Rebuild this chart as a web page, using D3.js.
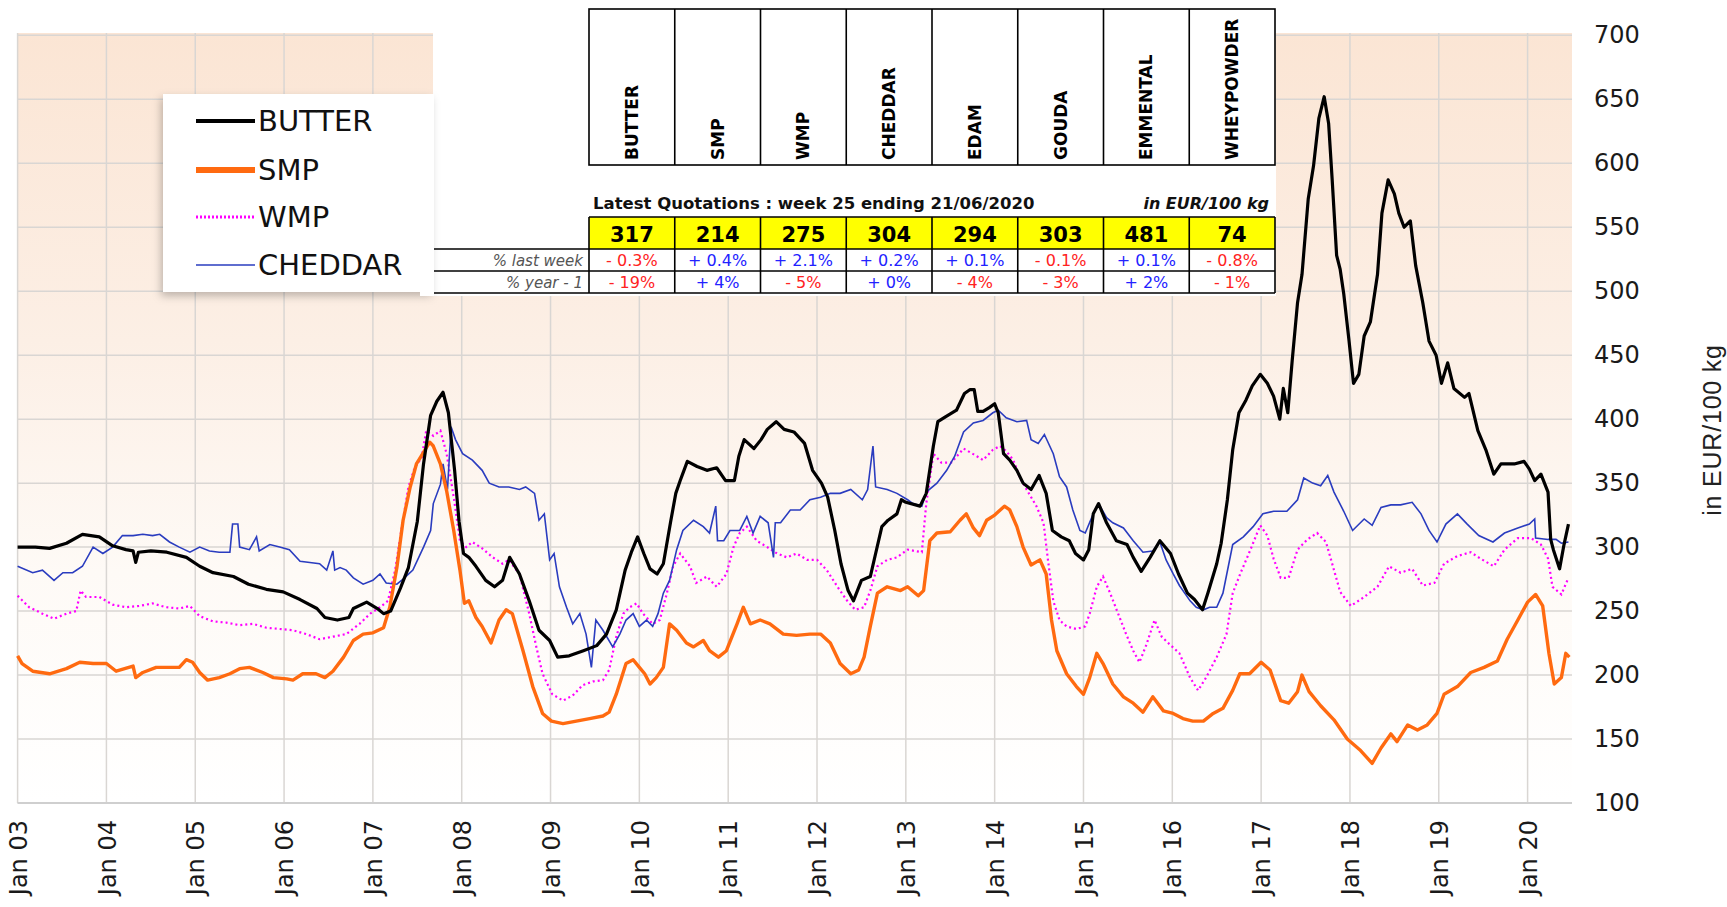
<!DOCTYPE html>
<html><head><meta charset="utf-8">
<script src="https://cdn.jsdelivr.net/npm/d3@7"></script>
<style>
html,body{margin:0;padding:0;background:#fff;}
svg{display:block;}
</style></head>
<body>
<svg id="chart" width="1727" height="907"></svg>
<script>
// ---------- DATA ----------
const years = d3.range(2003, 2021);
const yTicks = [100,150,200,250,300,350,400,450,500,550,600,650,700];
const seriesNames = ["BUTTER","SMP","WMP","CHEDDAR"];
const products = ["BUTTER","SMP","WMP","CHEDDAR","EDAM","GOUDA","EMMENTAL","WHEYPOWDER"];
const latest = [317,214,275,304,294,303,481,74];
const lastWeek = ["- 0.3%","+ 0.4%","+ 2.1%","+ 0.2%","+ 0.1%","- 0.1%","+ 0.1%","- 0.8%"];
const yearAgo = ["- 19%","+ 4%","- 5%","+ 0%","- 4%","- 3%","+ 2%","- 1%"];
const titleText = "Latest Quotations : week 25 ending 21/06/2020";
const unitText = "in EUR/100 kg";

// [decimal year, EUR/100 kg]
const butter = [[2003.0,300],[2003.2,300],[2003.36,299],[2003.55,303],[2003.73,310],[2003.92,308],[2004.07,301],[2004.22,298],[2004.3,297],[2004.33,288],[2004.36,296],[2004.5,297],[2004.68,296],[2004.9,292],[2005.05,285],[2005.2,280],[2005.43,277],[2005.6,271],[2005.8,267],[2005.99,265],[2006.18,259],[2006.37,252],[2006.46,245],[2006.6,243],[2006.73,245],[2006.78,252],[2006.93,257],[2007.05,252],[2007.12,248],[2007.2,250],[2007.31,268],[2007.4,284],[2007.5,320],[2007.57,365],[2007.65,403],[2007.72,414],[2007.79,421],[2007.85,405],[2007.92,360],[2007.97,320],[2008.02,295],[2008.08,292],[2008.16,285],[2008.27,274],[2008.37,269],[2008.46,274],[2008.54,292],[2008.65,279],[2008.76,258],[2008.87,235],[2008.99,227],[2009.08,214],[2009.21,215],[2009.37,219],[2009.52,223],[2009.63,232],[2009.74,251],[2009.84,282],[2009.91,296],[2009.98,308],[2010.05,295],[2010.12,283],[2010.2,279],[2010.27,287],[2010.35,319],[2010.41,342],[2010.46,352],[2010.54,367],[2010.65,363],[2010.76,360],[2010.87,362],[2010.97,352],[2011.07,352],[2011.12,371],[2011.18,384],[2011.29,377],[2011.37,384],[2011.44,392],[2011.54,398],[2011.63,392],[2011.74,390],[2011.86,381],[2011.95,360],[2012.05,350],[2012.12,339],[2012.2,313],[2012.27,287],[2012.35,266],[2012.41,258],[2012.5,274],[2012.6,277],[2012.66,295],[2012.73,316],[2012.8,321],[2012.9,326],[2012.95,337],[2013.0,335],[2013.16,332],[2013.23,342],[2013.31,379],[2013.36,398],[2013.45,402],[2013.57,407],[2013.66,420],[2013.72,423],[2013.77,423],[2013.81,406],[2013.87,406],[2013.94,409],[2014.0,412],[2014.04,405],[2014.1,373],[2014.17,368],[2014.25,360],[2014.32,350],[2014.41,345],[2014.5,356],[2014.58,342],[2014.65,313],[2014.75,308],[2014.84,305],[2014.91,295],[2015.0,290],[2015.06,298],[2015.11,326],[2015.17,334],[2015.26,319],[2015.37,305],[2015.49,302],[2015.56,292],[2015.65,281],[2015.75,292],[2015.86,305],[2015.98,295],[2016.07,279],[2016.17,264],[2016.25,259],[2016.34,251],[2016.4,264],[2016.5,287],[2016.55,303],[2016.62,337],[2016.68,376],[2016.75,405],[2016.83,415],[2016.9,426],[2016.99,435],[2017.07,428],[2017.14,418],[2017.21,400],[2017.25,424],[2017.3,405],[2017.35,446],[2017.41,491],[2017.46,513],[2017.53,572],[2017.59,598],[2017.65,635],[2017.71,652],[2017.76,631],[2017.8,587],[2017.85,528],[2017.89,517],[2017.93,498],[2017.99,461],[2018.04,428],[2018.1,435],[2018.16,465],[2018.23,476],[2018.31,513],[2018.36,561],[2018.43,587],[2018.5,576],[2018.55,561],[2018.61,550],[2018.68,555],[2018.74,520],[2018.82,491],[2018.89,461],[2018.97,450],[2019.03,428],[2019.1,444],[2019.17,424],[2019.29,417],[2019.34,420],[2019.44,391],[2019.53,376],[2019.62,357],[2019.7,365],[2019.85,365],[2019.96,367],[2020.02,361],[2020.08,352],[2020.15,357],[2020.23,343],[2020.26,306],[2020.29,298],[2020.36,283],[2020.41,302],[2020.46,318]];

const smp = [[2003.0,215],[2003.05,209],[2003.17,203],[2003.36,201],[2003.55,205],[2003.7,210],[2003.85,209],[2004.0,209],[2004.11,203],[2004.3,207],[2004.33,198],[2004.41,202],[2004.56,206],[2004.71,206],[2004.82,206],[2004.9,212],[2004.97,210],[2005.05,202],[2005.14,196],[2005.27,198],[2005.39,201],[2005.5,205],[2005.61,206],[2005.76,202],[2005.88,198],[2006.03,197],[2006.1,196],[2006.21,201],[2006.36,201],[2006.46,198],[2006.55,203],[2006.67,214],[2006.78,227],[2006.89,232],[2007.0,233],[2007.12,237],[2007.19,253],[2007.27,284],[2007.34,321],[2007.42,347],[2007.49,365],[2007.57,374],[2007.64,382],[2007.68,379],[2007.76,365],[2007.83,344],[2007.91,313],[2007.98,282],[2008.03,256],[2008.08,258],[2008.16,245],[2008.23,238],[2008.33,225],[2008.42,243],[2008.5,251],[2008.57,248],[2008.69,219],[2008.8,191],[2008.91,170],[2009.01,164],[2009.14,162],[2009.29,164],[2009.44,166],[2009.59,168],[2009.66,171],[2009.74,185],[2009.85,209],[2009.93,212],[2010.0,206],[2010.06,201],[2010.12,193],[2010.19,198],[2010.27,206],[2010.34,240],[2010.42,235],[2010.53,225],[2010.61,222],[2010.72,227],[2010.79,219],[2010.89,214],[2010.98,219],[2011.1,240],[2011.17,253],[2011.25,240],[2011.36,243],[2011.47,240],[2011.62,232],[2011.77,231],[2011.92,232],[2012.04,232],[2012.15,225],[2012.26,209],[2012.38,201],[2012.47,204],[2012.53,214],[2012.6,238],[2012.68,264],[2012.79,269],[2012.94,266],[2013.02,269],[2013.14,262],[2013.2,266],[2013.27,305],[2013.35,311],[2013.5,312],[2013.61,321],[2013.68,326],[2013.76,315],[2013.83,309],[2013.91,321],[2014.0,325],[2014.11,332],[2014.17,329],[2014.25,316],[2014.32,300],[2014.41,286],[2014.51,290],[2014.58,279],[2014.64,243],[2014.7,219],[2014.81,201],[2014.92,191],[2015.0,185],[2015.07,198],[2015.15,217],[2015.22,209],[2015.33,193],[2015.45,183],[2015.56,178],[2015.67,171],[2015.78,183],[2015.9,172],[2016.01,170],[2016.12,166],[2016.23,164],[2016.35,164],[2016.46,170],[2016.57,174],[2016.68,188],[2016.76,201],[2016.87,201],[2017.0,210],[2017.1,204],[2017.22,180],[2017.31,178],[2017.41,187],[2017.46,200],[2017.54,187],[2017.67,176],[2017.82,165],[2017.97,150],[2018.12,141],[2018.25,131],[2018.35,143],[2018.46,154],[2018.53,148],[2018.65,161],[2018.76,157],[2018.87,161],[2018.98,170],[2019.06,185],[2019.21,191],[2019.36,202],[2019.51,206],[2019.66,211],[2019.77,228],[2019.89,243],[2020.0,257],[2020.09,263],[2020.17,254],[2020.24,217],[2020.3,193],[2020.38,198],[2020.43,217],[2020.47,214]];

const wmp = [[2003.0,262],[2003.13,253],[2003.28,248],[2003.41,244],[2003.55,248],[2003.66,250],[2003.71,266],[2003.77,261],[2003.92,261],[2004.07,255],[2004.22,253],[2004.37,254],[2004.52,256],[2004.67,253],[2004.82,252],[2004.94,254],[2005.05,246],[2005.2,242],[2005.35,241],[2005.5,239],[2005.65,240],[2005.8,237],[2005.95,236],[2006.1,235],[2006.25,232],[2006.4,228],[2006.55,230],[2006.7,232],[2006.85,240],[2006.97,248],[2007.08,253],[2007.17,258],[2007.25,282],[2007.32,313],[2007.4,347],[2007.47,362],[2007.55,370],[2007.6,391],[2007.68,387],[2007.76,391],[2007.83,373],[2007.91,339],[2007.98,305],[2008.05,300],[2008.12,304],[2008.23,299],[2008.35,292],[2008.46,287],[2008.53,290],[2008.65,279],[2008.76,248],[2008.84,222],[2008.91,201],[2009.02,185],[2009.14,180],[2009.25,184],[2009.36,192],[2009.48,195],[2009.59,196],[2009.66,204],[2009.74,230],[2009.82,248],[2009.89,253],[2009.97,256],[2010.04,248],[2010.15,240],[2010.23,243],[2010.31,264],[2010.38,285],[2010.46,295],[2010.57,285],[2010.64,272],[2010.76,277],[2010.87,269],[2010.98,279],[2011.06,300],[2011.13,311],[2011.21,316],[2011.32,305],[2011.44,300],[2011.55,295],[2011.66,292],[2011.77,295],[2011.89,290],[2012.0,290],[2012.11,282],[2012.23,269],[2012.34,258],[2012.43,251],[2012.53,253],[2012.6,266],[2012.68,285],[2012.79,290],[2012.9,292],[2013.02,298],[2013.18,296],[2013.23,334],[2013.31,373],[2013.4,366],[2013.51,366],[2013.65,377],[2013.8,371],[2013.87,368],[2013.98,376],[2014.06,379],[2014.13,375],[2014.21,368],[2014.28,355],[2014.36,345],[2014.47,332],[2014.55,319],[2014.6,290],[2014.66,258],[2014.73,243],[2014.81,238],[2014.92,236],[2015.02,238],[2015.07,248],[2015.15,269],[2015.22,277],[2015.3,264],[2015.39,248],[2015.48,232],[2015.56,219],[2015.63,210],[2015.71,224],[2015.8,243],[2015.88,230],[2015.97,224],[2016.08,217],[2016.2,198],[2016.29,188],[2016.38,198],[2016.5,214],[2016.61,232],[2016.68,264],[2016.77,280],[2016.88,298],[2016.99,317],[2017.07,309],[2017.14,291],[2017.22,276],[2017.31,276],[2017.41,298],[2017.52,306],[2017.63,311],[2017.73,304],[2017.8,287],[2017.89,265],[2018.01,254],[2018.16,261],[2018.31,269],[2018.44,285],[2018.57,280],[2018.7,283],[2018.82,270],[2018.95,272],[2019.06,287],[2019.21,293],[2019.36,296],[2019.47,291],[2019.62,285],[2019.74,298],[2019.89,307],[2020.04,307],[2020.15,302],[2020.23,291],[2020.28,269],[2020.38,263],[2020.46,276]];

const cheddar = [[2003.0,285],[2003.17,280],[2003.28,282],[2003.41,274],[2003.51,280],[2003.62,280],[2003.73,285],[2003.85,300],[2003.96,295],[2004.07,300],[2004.18,309],[2004.3,309],[2004.41,310],[2004.52,309],[2004.6,310],[2004.71,304],[2004.82,300],[2004.94,296],[2005.05,300],[2005.16,297],[2005.27,296],[2005.39,296],[2005.42,318],[2005.48,318],[2005.5,300],[2005.61,298],[2005.69,308],[2005.72,297],[2005.84,302],[2005.95,300],[2006.06,298],[2006.18,289],[2006.29,288],[2006.4,287],[2006.48,282],[2006.55,297],[2006.57,282],[2006.63,284],[2006.7,282],[2006.78,276],[2006.89,271],[2007.0,274],[2007.08,279],[2007.15,272],[2007.27,271],[2007.34,275],[2007.45,282],[2007.57,300],[2007.65,313],[2007.68,334],[2007.76,349],[2007.79,365],[2007.84,345],[2007.88,394],[2007.93,384],[2008.01,373],[2008.12,368],[2008.23,360],[2008.31,350],[2008.42,347],[2008.53,347],[2008.65,345],[2008.72,347],[2008.82,342],[2008.87,321],[2008.93,326],[2008.99,290],[2009.04,295],[2009.1,269],[2009.18,253],[2009.25,240],[2009.33,248],[2009.4,232],[2009.46,206],[2009.51,243],[2009.59,235],[2009.7,222],[2009.78,232],[2009.85,243],[2009.93,248],[2010.0,238],[2010.08,243],[2010.15,238],[2010.21,248],[2010.27,264],[2010.34,274],[2010.42,298],[2010.49,313],[2010.61,321],[2010.72,316],[2010.79,311],[2010.86,332],[2010.88,305],[2010.95,305],[2011.02,313],[2011.13,313],[2011.21,324],[2011.28,311],[2011.36,324],[2011.45,319],[2011.51,292],[2011.53,319],[2011.59,319],[2011.7,329],[2011.81,329],[2011.92,337],[2012.04,339],[2012.15,342],[2012.26,342],[2012.38,345],[2012.51,337],[2012.57,345],[2012.63,379],[2012.66,347],[2012.79,345],[2012.9,342],[2013.02,337],[2013.08,334],[2013.18,332],[2013.23,343],[2013.35,350],[2013.46,360],[2013.55,371],[2013.65,390],[2013.76,397],[2013.87,399],[2013.98,405],[2014.04,407],[2014.13,401],[2014.25,398],[2014.36,399],[2014.41,384],[2014.49,381],[2014.56,388],[2014.66,373],[2014.73,355],[2014.81,347],[2014.88,329],[2014.96,313],[2015.02,311],[2015.11,326],[2015.17,334],[2015.26,323],[2015.33,319],[2015.45,315],[2015.56,305],[2015.67,296],[2015.78,297],[2015.86,304],[2015.93,290],[2016.01,279],[2016.08,270],[2016.2,258],[2016.27,253],[2016.35,251],[2016.42,253],[2016.5,253],[2016.57,264],[2016.68,302],[2016.8,308],[2016.91,316],[2017.02,326],[2017.14,328],[2017.29,328],[2017.41,337],[2017.48,354],[2017.58,350],[2017.67,348],[2017.75,356],[2017.82,343],[2017.93,328],[2018.03,313],[2018.16,322],[2018.25,317],[2018.35,331],[2018.46,333],[2018.57,333],[2018.7,335],[2018.8,326],[2018.89,313],[2018.98,304],[2019.08,318],[2019.21,326],[2019.32,318],[2019.45,309],[2019.61,304],[2019.74,311],[2019.89,315],[2020.02,318],[2020.08,322],[2020.09,307],[2020.23,306],[2020.32,306],[2020.38,303],[2020.46,304]];

// ---------- DRAW ----------
const svg = d3.select("#chart");
const X0 = 17.6, X1 = 1527.6;           // positions of Jan 03 and Jan 20
const plotRight = 1572, plotTop = 33, plotBottom = 803;
const x = d3.scaleLinear().domain([2003, 2020]).range([X0, X1]);
const y = d3.scaleLinear().domain([100, 700]).range([803, 35.3]);
const FONT = "DejaVu Sans, Verdana, sans-serif";

const defs = svg.append("defs");
const grad = defs.append("linearGradient").attr("id","bg").attr("x1",0).attr("y1",0).attr("x2",0).attr("y2",1);
grad.append("stop").attr("offset","0%").attr("stop-color","#fbe5d4");
grad.append("stop").attr("offset","40%").attr("stop-color","#fcefe5");
grad.append("stop").attr("offset","70%").attr("stop-color","#fefaf6");
grad.append("stop").attr("offset","100%").attr("stop-color","#ffffff");
const sh = defs.append("filter").attr("id","shadow").attr("x","-10%").attr("y","-10%").attr("width","125%").attr("height","125%");
sh.append("feDropShadow").attr("dx",-2).attr("dy",4).attr("stdDeviation",4).attr("flood-color","#000").attr("flood-opacity",0.25);

svg.append("rect").attr("x",X0).attr("y",plotTop).attr("width",plotRight-X0).attr("height",plotBottom-plotTop).attr("fill","url(#bg)");

// grid
const grid = svg.append("g");
grid.selectAll("line.h").data(yTicks).join("line")
  .attr("x1",X0).attr("x2",plotRight).attr("y1",d=>y(d)).attr("y2",d=>y(d))
  .attr("stroke","#d9d6d3").attr("stroke-width",1.5);
grid.selectAll("line.v").data(years).join("line")
  .attr("x1",d=>x(d)).attr("x2",d=>x(d)).attr("y1",plotTop).attr("y2",plotBottom)
  .attr("stroke","#d9d6d3").attr("stroke-width",1.5);
svg.append("line").attr("x1",X0).attr("x2",plotRight).attr("y1",plotBottom).attr("y2",plotBottom)
  .attr("stroke","#cfcfcf").attr("stroke-width",2);

// lines
const line = d3.line().x(d=>x(d[0])).y(d=>y(d[1]));
svg.append("path").datum(wmp).attr("d",line).attr("fill","none").attr("stroke","#ff00ff").attr("stroke-width",2.2).attr("stroke-dasharray","2,3");
svg.append("path").datum(cheddar).attr("d",line).attr("fill","none").attr("stroke","#2a3cbf").attr("stroke-width",1.6);
svg.append("path").datum(smp).attr("d",line).attr("fill","none").attr("stroke","#ff6a10").attr("stroke-width",3.4).attr("stroke-linejoin","round");
svg.append("path").datum(butter).attr("d",line).attr("fill","none").attr("stroke","#000").attr("stroke-width",3.2).attr("stroke-linejoin","round");

// x axis
const fmt = d => "Jan " + String(d % 100).padStart(2,"0");
const xa = svg.append("g").attr("transform",`translate(0,${plotBottom})`)
  .call(d3.axisBottom(x).tickValues(years).tickFormat(fmt).tickSize(0));
xa.select(".domain").remove();
xa.selectAll("text").attr("transform","rotate(-90)").attr("x",-17).attr("y",0).attr("dy","0.36em")
  .attr("text-anchor","end").attr("font-family",FONT).attr("font-size",24).attr("fill","#1a1a1a");

// y axis (right)
const ya = svg.append("g").attr("transform",`translate(${plotRight},0)`)
  .call(d3.axisRight(y).tickValues(yTicks).tickSize(0).tickPadding(22));
ya.select(".domain").remove();
ya.selectAll("text").attr("font-family",FONT).attr("font-size",24).attr("fill","#1a1a1a").attr("text-anchor","start");

svg.append("text").attr("transform","translate(1712,430) rotate(-90)").attr("text-anchor","middle")
  .attr("dy","0.35em").attr("font-family","Liberation Sans, Arial, sans-serif").attr("font-size",25)
  .attr("letter-spacing",0.8).attr("fill","#222").text(unitText);

// table block
const T = {left:433, colLeft:589, right:1275, hTop:9, hBottom:165, yTop:217, r1:249, r2:271, r3:293};
svg.append("rect").attr("x",T.left).attr("y",0).attr("width",T.right-T.left+1).attr("height",296).attr("fill","#fff");
const cw = (T.right - T.colLeft)/products.length;
const cx = i => T.colLeft + cw*i + cw/2;
const tbl = svg.append("g");
tbl.append("rect").attr("x",T.colLeft).attr("y",T.hTop).attr("width",T.right-T.colLeft).attr("height",T.hBottom-T.hTop)
  .attr("fill","#fff").attr("stroke","#000").attr("stroke-width",1.6);
tbl.selectAll("line.hc").data(d3.range(1,products.length)).join("line")
  .attr("x1",i=>T.colLeft+cw*i).attr("x2",i=>T.colLeft+cw*i).attr("y1",T.hTop).attr("y2",T.hBottom)
  .attr("stroke","#000").attr("stroke-width",1.6);
tbl.selectAll("text.hd").data(products).join("text")
  .attr("transform",(d,i)=>`translate(${cx(i)+6},${T.hBottom-5}) rotate(-90)`)
  .attr("font-family",FONT).attr("font-weight","bold").attr("font-size",17).attr("fill","#000").text(d=>d);

tbl.append("text").attr("x",T.colLeft+4).attr("y",209).attr("font-family",FONT)
  .attr("font-weight","bold").attr("font-size",16.5).attr("fill","#111").text(titleText);
tbl.append("text").attr("x",T.right-6).attr("y",209).attr("text-anchor","end").attr("font-family",FONT)
  .attr("font-weight","bold").attr("font-style","italic").attr("font-size",16).attr("fill","#111").text(unitText);

tbl.append("rect").attr("x",T.colLeft).attr("y",T.yTop).attr("width",T.right-T.colLeft).attr("height",T.r1-T.yTop).attr("fill","#ffff00");
[T.yTop, T.r1, T.r2, T.r3].forEach((yy,k)=>{
  tbl.append("line").attr("x1",k===0?T.colLeft:T.left).attr("x2",T.right).attr("y1",yy).attr("y2",yy).attr("stroke","#000").attr("stroke-width",1.6);
});
tbl.selectAll("line.vc").data(d3.range(0,products.length+1)).join("line")
  .attr("x1",i=>T.colLeft+cw*i).attr("x2",i=>T.colLeft+cw*i).attr("y1",T.yTop).attr("y2",T.r3)
  .attr("stroke","#000").attr("stroke-width",1.6);
tbl.selectAll("text.lv").data(latest).join("text")
  .attr("x",(d,i)=>cx(i)).attr("y",T.r1-7).attr("text-anchor","middle")
  .attr("font-family",FONT).attr("font-weight","bold").attr("font-size",21).attr("fill","#000").text(d=>d);
const pcol = s => s.trim().startsWith("-") ? "#ff2222" : "#2222ff";
tbl.selectAll("text.lw").data(lastWeek).join("text")
  .attr("x",(d,i)=>cx(i)).attr("y",T.r2-5).attr("text-anchor","middle")
  .attr("font-family",FONT).attr("font-size",16).attr("fill",pcol).text(d=>d);
tbl.selectAll("text.ya").data(yearAgo).join("text")
  .attr("x",(d,i)=>cx(i)).attr("y",T.r3-5).attr("text-anchor","middle")
  .attr("font-family",FONT).attr("font-size",16).attr("fill",pcol).text(d=>d);
tbl.append("text").attr("x",T.colLeft-6).attr("y",T.r2-5).attr("text-anchor","end")
  .attr("font-family",FONT).attr("font-style","italic").attr("font-size",15).attr("fill","#555").text("% last week");
tbl.append("text").attr("x",T.colLeft-6).attr("y",T.r3-5).attr("text-anchor","end")
  .attr("font-family",FONT).attr("font-style","italic").attr("font-size",15).attr("fill","#555").text("% year - 1");

// legend
const lg = svg.append("g");
lg.append("rect").attr("x",163).attr("y",94).attr("width",270).attr("height",198).attr("fill","#fff").attr("filter","url(#shadow)");
lg.append("rect").attr("x",420).attr("y",94).attr("width",14).attr("height",202).attr("fill","#fff");
const legStyles = [
  {c:"#000", w:4, dash:null},
  {c:"#ff6a10", w:6, dash:null},
  {c:"#ff00ff", w:3, dash:"2,2"},
  {c:"#2a3cbf", w:1.6, dash:null}
];
const legY = [121,170,217,265];
seriesNames.forEach((n,i)=>{
  lg.append("line").attr("x1",196).attr("x2",255).attr("y1",legY[i]).attr("y2",legY[i])
    .attr("stroke",legStyles[i].c).attr("stroke-width",legStyles[i].w).attr("stroke-dasharray",legStyles[i].dash);
  lg.append("text").attr("x",258).attr("y",legY[i]).attr("dy","0.36em")
    .attr("font-family",FONT).attr("font-size",29).attr("fill","#111").text(n);
});
</script>
</body></html>
